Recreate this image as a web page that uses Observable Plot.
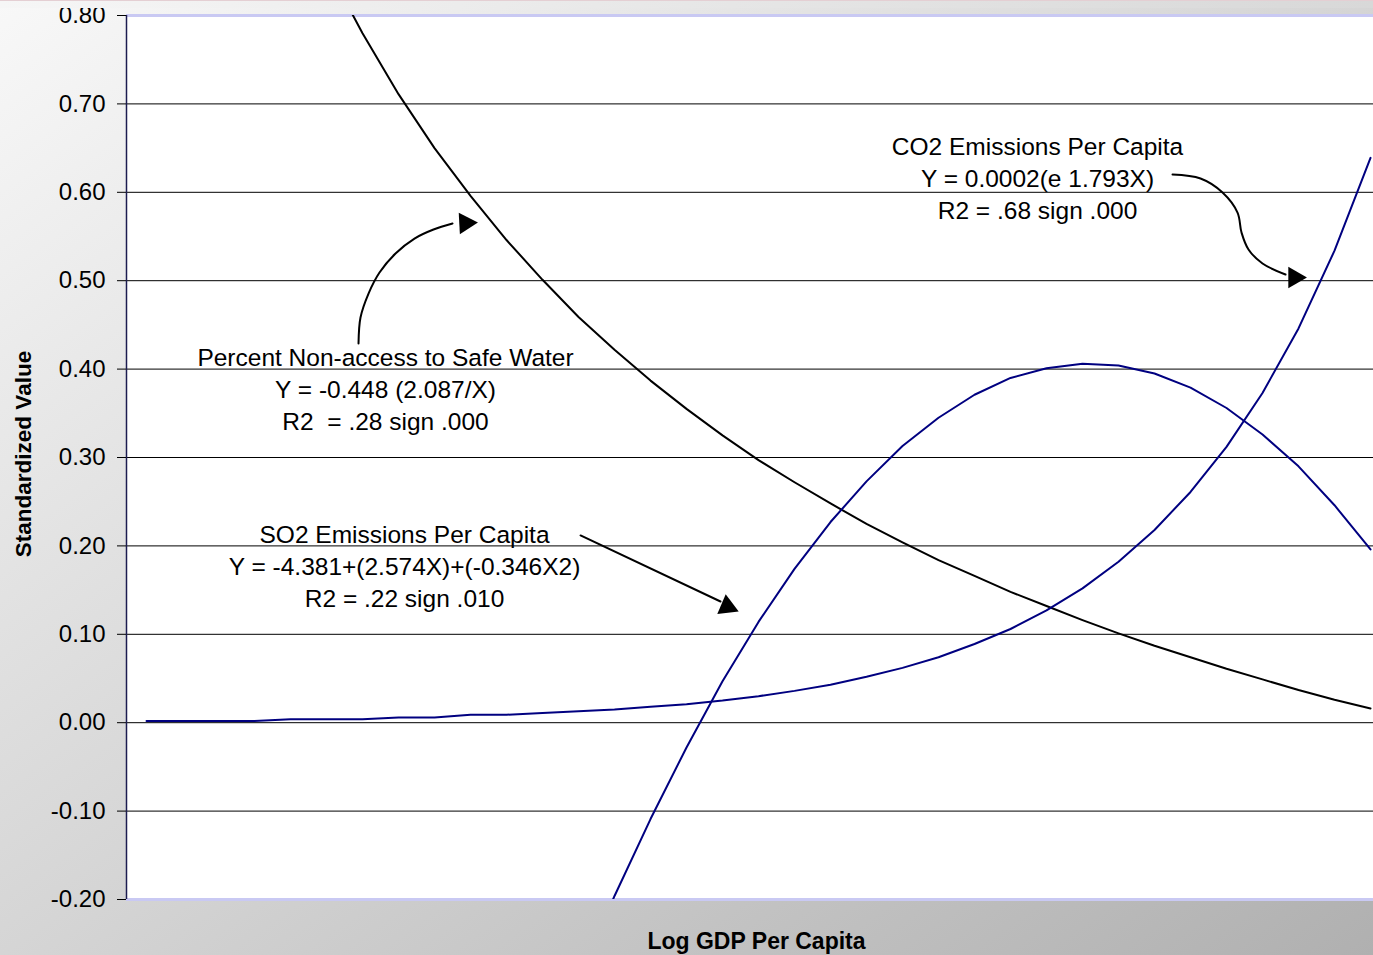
<!DOCTYPE html>
<html>
<head>
<meta charset="utf-8">
<script src="https://cdn.jsdelivr.net/npm/d3@7"></script>
<script src="https://cdn.jsdelivr.net/npm/@observablehq/plot@0.6"></script>
<style>
  html, body { margin: 0; padding: 0; overflow: hidden; }
  body {
    width: 1373px; height: 955px; position: relative;
    background: linear-gradient(to bottom right, #f8f8f8 0%, #d5d5d5 50%, #b0b0b0 100%);
    font-family: "Liberation Sans", Arial, sans-serif;
  }
  #chart { position: absolute; left: 0; top: 0; }
  #topcover {
    position: absolute; left: 0; top: 0; width: 1373px; height: 8px;
    background: linear-gradient(to right, #f6f6f6, #d8d8d8);
    border-top: 1px solid #e4cfd3;
    box-sizing: border-box;
  }
</style>
</head>
<body>
<div id="chart"></div>
<div id="topcover"></div>
<script>
// ---- data ----
const logGdp = [1.1,1.2,1.3,1.4,1.5,1.6,1.7,1.8,1.9,2.0,2.1,2.2,2.3,2.4,2.5,2.6,2.7,2.8,2.9,3.0,
                3.1,3.2,3.3,3.4,3.5,3.6,3.7,3.8,3.9,4.0,4.1,4.2,4.3,4.4,4.5];

const safeWater = [null,null,null,null,0.943,0.856,0.780,0.711,0.650,0.596,0.546,0.501,0.459,0.422,0.387,
                   0.355,0.325,0.297,0.272,0.248,0.225,0.204,0.184,0.166,0.148,0.132,0.116,0.101,0.087,
                   0.074,0.061,0.049,0.037,0.026,0.016];

const so2 = [null,null,null,null,null,null,null,null,null,null,null,null,-0.291,-0.196,-0.109,
             -0.028,0.047,0.114,0.174,0.227,0.273,0.313,0.345,0.371,0.390,0.401,0.406,0.404,0.395,
             0.379,0.356,0.326,0.290,0.246,0.196];

const co2 = [0.002,0.002,0.002,0.002,0.004,0.004,0.004,0.006,0.006,0.009,0.009,0.011,0.013,0.015,0.018,
             0.021,0.025,0.030,0.036,0.043,0.052,0.062,0.074,0.089,0.106,0.127,0.152,0.182,0.218,
             0.261,0.312,0.373,0.446,0.534,0.639];

const seriesNames = ["Percent Non-access to Safe Water", "SO2 Emissions Per Capita", "CO2 Emissions Per Capita"];
const seriesColors = ["#000000", "#000080", "#000080"];

const yTicks = [-0.2,-0.1,0,0.1,0.2,0.3,0.4,0.5,0.6,0.7,0.8];
const gridTicks = [-0.1,0,0.1,0.2,0.3,0.4,0.5,0.6,0.7];
const xDomain = [1.0444, 4.5083];
const yDomain = [-0.2, 0.8];

const yTitle = "Standardized Value";
const xTitle = "Log GDP Per Capita";

// annotation texts (data coordinates)
const noteText = [
  "Percent Non-access to Safe Water\nY = -0.448 (2.087/X)\nR2  = .28 sign .000",
  "SO2 Emissions Per Capita\nY = -4.381+(2.574X)+(-0.346X2)\nR2 = .22 sign .010",
  "CO2 Emissions Per Capita\nY = 0.0002(e 1.793X)\nR2 = .68 sign .000"
];
const noteX = [1.7639, 1.8167, 3.575];
const noteY = [0.3786, 0.1784, 0.6173];

// annotation arrows (data coordinates)
const waterArrowX = [1.6889,1.6944,1.7167,1.7472,1.7917,1.8444,1.8972,1.9500];
const waterArrowY = [0.4290,0.4584,0.4855,0.5093,0.5308,0.5477,0.5579,0.5647];
const co2ArrowX = [3.9500,4.0278,4.0889,4.1306,4.1417,4.1611,4.2000,4.2639];
const co2ArrowY = [0.6201,0.6156,0.5998,0.5771,0.5545,0.5353,0.5195,0.5070];
const so2ArrowX = [2.3056, 2.6944];
const so2ArrowY = [0.2118, 0.1371];
const headX = [1.9861, 4.2889, 2.7131];
const headY = [0.5650, 0.5036, 0.1314];
const headAngle = [87, 90, 113];

// ---- build tables ----
const seriesValues = [safeWater, so2, co2];
const rows = [];
seriesValues.forEach((vals, s) => {
  vals.forEach((v, i) => { if (v !== null) rows.push({x: logGdp[i], y: v, series: seriesNames[s]}); });
});
const notes = noteText.map((t, i) => ({t, x: noteX[i], y: noteY[i]}));
const arrowRows = [];
[[waterArrowX, waterArrowY], [co2ArrowX, co2ArrowY], [so2ArrowX, so2ArrowY]].forEach(([xs, ys], k) => {
  xs.forEach((x, i) => arrowRows.push({k, x, y: ys[i]}));
});
const heads = headX.map((x, i) => ({x, y: headY[i], a: headAngle[i]}));

const chart = Plot.plot({
  width: 1373,
  height: 955,
  marginLeft: 126,
  marginRight: 0,
  marginTop: 15,
  marginBottom: 56,
  style: {background: "transparent", fontFamily: "'Liberation Sans', Arial, sans-serif", color: "black", overflow: "visible"},
  x: {domain: xDomain, axis: null},
  y: {domain: yDomain, axis: null},
  color: {domain: seriesNames, range: seriesColors},
  marks: [
    Plot.frame({fill: "white", stroke: null}),
    Plot.ruleY(gridTicks, {stroke: "#000", strokeWidth: 1}),
    Plot.ruleY([yDomain[0], yDomain[1]], {stroke: "#c9c9f3", strokeWidth: 3}),
    Plot.line(rows, {x: "x", y: "y", z: "series", stroke: "series", strokeWidth: 2, clip: true}),
    Plot.ruleX([xDomain[0]], {stroke: "#1c1c50", strokeWidth: 1.5}),
    Plot.axisY({ticks: yTicks, tickFormat: d => d.toFixed(2), tickSize: 9, tickPadding: 12,
                fontSize: 24, label: null, stroke: "#000", fill: "#000"}),
    Plot.line(arrowRows, {x: "x", y: "y", z: "k", curve: "catmull-rom", stroke: "#000", strokeWidth: 2}),
    Plot.dot(heads, {x: "x", y: "y", rotate: "a", symbol: "triangle", r: 8, fill: "#000", stroke: null}),
    Plot.text(notes, {x: "x", y: "y", text: "t", fontSize: 24.5, lineHeight: 1.306,
                      textAnchor: "middle", lineAnchor: "middle", fill: "#000"}),
    Plot.text([yTitle], {frameAnchor: "left", dx: -103, dy: -3.5, rotate: -90, fontSize: 22.5,
                         fontWeight: "bold", textAnchor: "middle", lineAnchor: "middle", fill: "#000"}),
    Plot.text([xTitle], {frameAnchor: "bottom", dx: 6.5, dy: 42, fontSize: 23, fontWeight: "bold",
                         textAnchor: "middle", lineAnchor: "middle", fill: "#000"})
  ]
});
document.getElementById("chart").appendChild(chart);
</script>
</body>
</html>
